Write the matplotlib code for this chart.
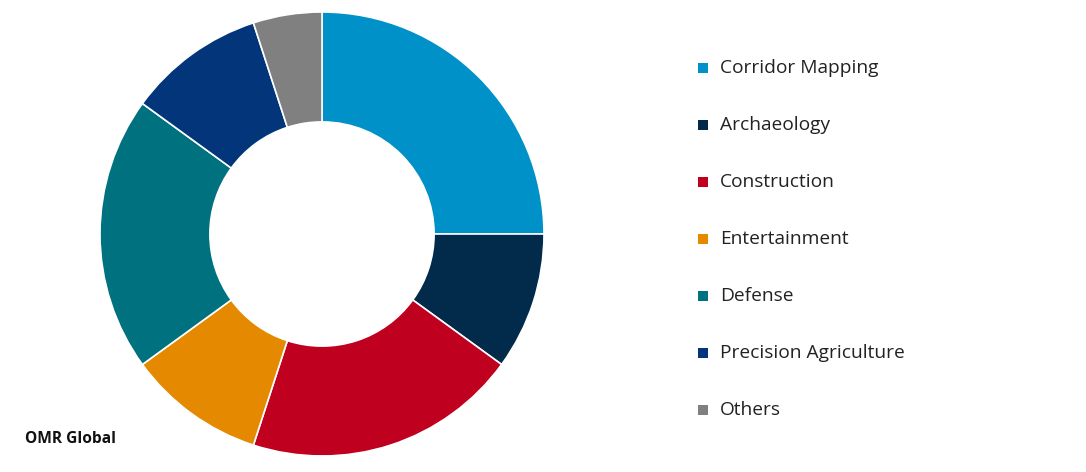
import matplotlib
matplotlib.use("Agg")
import matplotlib.pyplot as plt
from matplotlib.patches import Rectangle

categories = ["Corridor Mapping", "Archaeology", "Construction", "Entertainment",
              "Defense", "Precision Agriculture", "Others"]
values = [25, 10, 20, 10, 20, 10, 5]
colors = ["#0091C8", "#012A4B", "#C0001F", "#E58A00", "#00717F", "#02357A", "#808080"]

W, H = 1086, 472
fig = plt.figure(figsize=(W / 100, H / 100), dpi=100)
fig.patch.set_facecolor("white")

cx, cy, r = 322, 234, 222
ax = fig.add_axes([(cx - r) / W, (H - cy - r) / H, 2 * r / W, 2 * r / H])
ax.pie(values, colors=colors, startangle=90, counterclock=False, radius=1,
       wedgeprops=dict(width=0.495, edgecolor="white", linewidth=1.2))
ax.set_xlim(-1.0, 1.0)
ax.set_ylim(-1.0, 1.0)
ax.set_aspect("equal")
ax.axis("off")

font = "Open Sans"
y0, dy = 68, 57
for i, (c, col) in enumerate(zip(categories, colors)):
    y = y0 + i * dy
    fig.patches.append(Rectangle(((698) / W, (H - y - 5) / H), 10 / W, 10 / H,
                                 transform=fig.transFigure, facecolor=col, edgecolor="none"))
    fig.text(720 / W, (H - y) / H, c, fontsize=13.8, family=font,
             va="center", ha="left", color="#222222")

fig.text(25 / W, (H - 439) / H, "OMR Global", fontsize=11.2, family=font,
         fontweight="bold", va="center", ha="left", color="#111111")

fig.savefig("out.png", dpi=100)
